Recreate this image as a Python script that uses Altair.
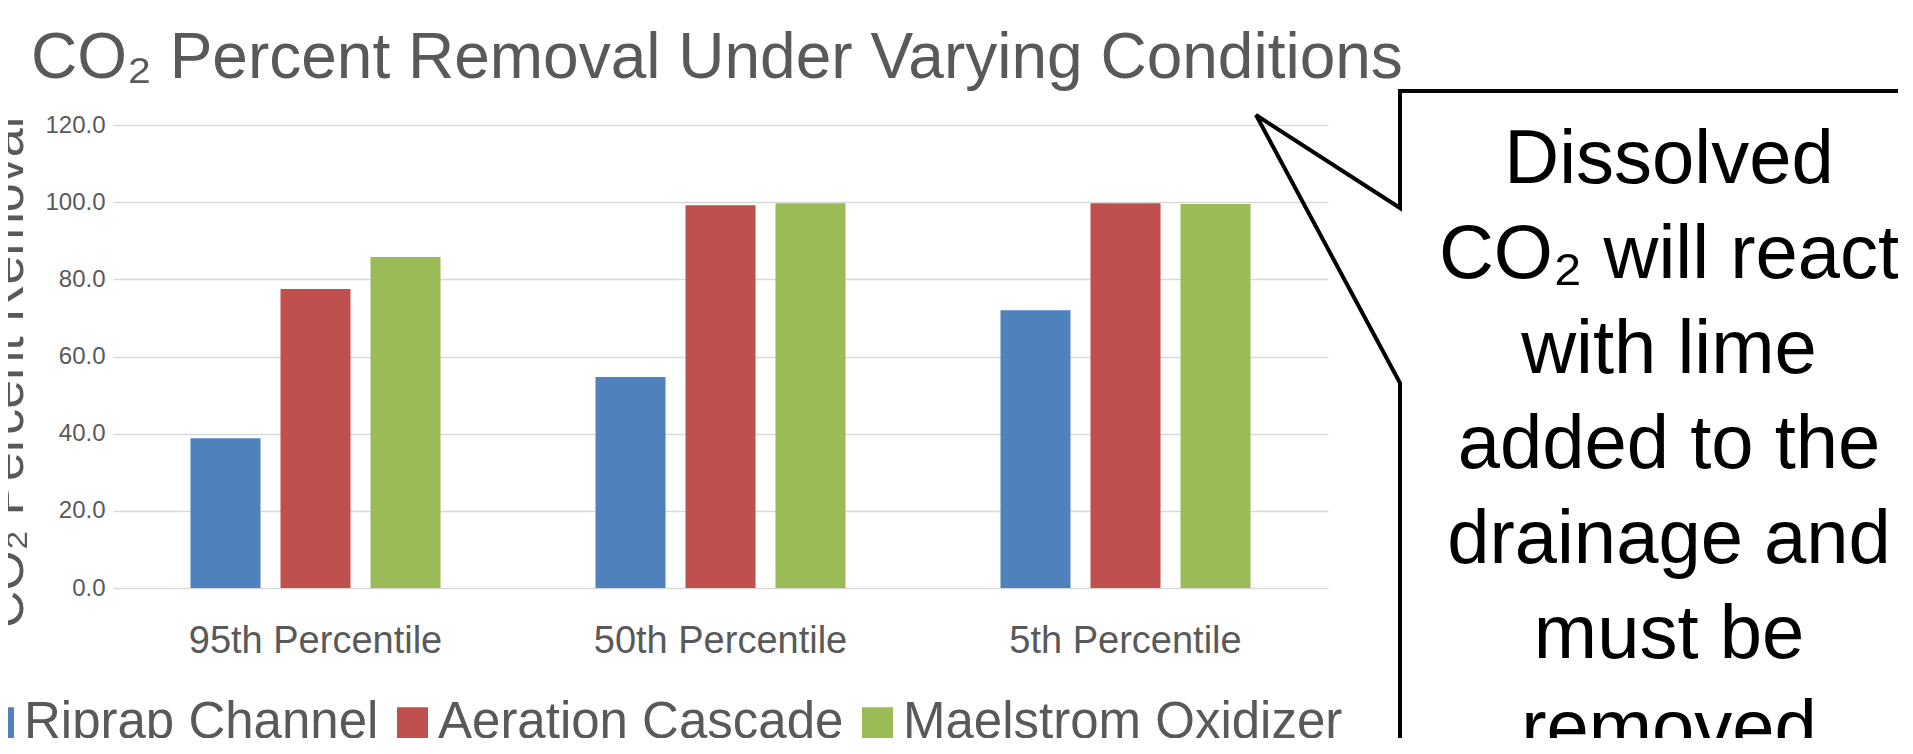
import altair as alt
import pandas as pd

FONT = "Liberation Sans"
GRAY = "#595959"

categories = ["95th Percentile", "50th Percentile", "5th Percentile"]
series = ["Riprap Channel", "Aeration Cascade", "Maelstrom Oxidizer"]
riprap = [38.8, 54.7, 72.0]
aeration = [77.5, 99.2, 99.7]
maelstrom = [85.8, 99.7, 99.5]
colors = ["#4F81BD", "#C0504D", "#9BBB59"]
y_ticks = [0, 20, 40, 60, 80, 100, 120]

title_text = "CO₂ Percent Removal Under Varying Conditions"
y_title = "CO₂ Percent Removal"
callout_lines = ["Dissolved", "CO₂ will react", "with lime", "added to the",
                 "drainage and", "must be", "removed"]
# callout outline (pixels, relative to the plot area origin)
callout_px = [1800, 1287, 1287, 1143, 1287, 1287]
callout_py = [-34, -34, 83, -10, 258, 640]

rows = []
for s, vals in zip(series, [riprap, aeration, maelstrom]):
    for c, v in zip(categories, vals):
        rows.append({"category": c, "series": s, "value": v})
df = pd.DataFrame(rows)

bars = alt.Chart(df).mark_bar().encode(
    x=alt.X("category:N", sort=categories,
            scale=alt.Scale(paddingInner=0, paddingOuter=0),
            axis=alt.Axis(title=None, labelAngle=0, labelFontSize=38, labelColor=GRAY,
                          labelFont=FONT, labelPadding=64, labelBaseline="alphabetic",
                          ticks=False, tickSize=0, domain=False, grid=False, labelLimit=1000)),
    xOffset=alt.XOffset("series:N", sort=series,
                        scale=alt.Scale(paddingInner=0.222, paddingOuter=0.861)),
    y=alt.Y("value:Q", scale=alt.Scale(domain=[0, 120], nice=False),
            axis=alt.Axis(values=y_ticks, format=".1f", title=y_title,
                          labelFontSize=24, labelColor=GRAY, labelFont=FONT, labelPadding=8,
                          ticks=False, tickSize=0, domain=False,
                          grid=True, gridColor="#D9D9D9", gridWidth=1.5,
                          titleFontSize=52, titleColor=GRAY, titleFont=FONT,
                          titleFontWeight="normal", titleAngle=270,
                          titleX=-91, titleY=247, titleAlign="center",
                          titleBaseline="alphabetic")),
    color=alt.Color("series:N", sort=series,
                    scale=alt.Scale(domain=series, range=colors),
                    legend=alt.Legend(title=None, orient="none", direction="horizontal",
                                      legendX=-140, legendY=572,
                                      symbolType="square", symbolSize=961,
                                      symbolStrokeWidth=0, labelFontSize=51,
                                      labelFont=FONT, labelColor=GRAY, labelOffset=0,
                                      columnPadding=8, padding=0, labelLimit=1000)),
)

title_layer = alt.Chart(pd.DataFrame({"t": [title_text]})).mark_text(
    align="left", baseline="alphabetic", fontSize=64, color=GRAY, font=FONT
).encode(x=alt.value(-82), y=alt.value(-47), text="t:N")

callout_df = pd.DataFrame({"px": callout_px, "py": callout_py,
                           "i": list(range(len(callout_px)))})
callout_line = alt.Chart(callout_df).mark_line(
    color="black", strokeWidth=4, strokeJoin="miter", clip=False
).encode(x=alt.X("px:Q", scale=None, axis=None),
         y=alt.Y("py:Q", scale=None, axis=None),
         order="i:O")

callout_text = alt.Chart(pd.DataFrame({"t": ["\n".join(callout_lines)]})).mark_text(
    align="center", baseline="alphabetic", fontSize=76, lineHeight=95,
    lineBreak="\n", color="black", font=FONT
).encode(x=alt.value(1556), y=alt.value(58), text="t:N")

chart = alt.layer(bars, title_layer, callout_line, callout_text).resolve_scale(
    x="independent", y="independent"
).properties(
    width=1215, height=463,
    autosize=alt.AutoSizeParams(type="none"),
    padding={"left": 105, "top": 117, "right": 570, "bottom": 150},
).configure(font=FONT).configure_view(stroke=None)

chart.save("out.html", embed_options={"renderer": "svg", "actions": False})
